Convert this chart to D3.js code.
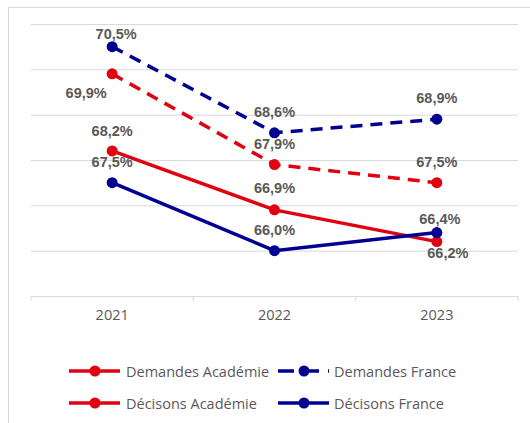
<!DOCTYPE html>
<html>
<head>
<meta charset="utf-8">
<script src="https://cdn.jsdelivr.net/npm/d3@7"></script>
<style>
  body { margin: 0; background: #fff; }
  svg { display: block; }
</style>
</head>
<body>
<svg id="chart" width="530" height="423"></svg>
<script>
// data
const years = ["2021", "2022", "2023"];
const demandesAcademie = [69.9, 67.9, 67.5];
const demandesFrance = [70.5, 68.6, 68.9];
const decisionsAcademie = [68.2, 66.9, 66.2];
const decisionsFrance = [67.5, 66.0, 66.4];
const gridValues = [66, 67, 68, 69, 70, 71];

let svg = d3.select("#chart");
let margin = {left: 31, right: 12, top: 24, bottom: 127};
let width = 530 - margin.left - margin.right;
let height = 423 - margin.top - margin.bottom;

let RED = "#e1000f", BLUE = "#000091", GREY = "#595959";

// label placement per point (dx, dy) relative to the marker
let series = [
  {name: "Demandes Académie", values: demandesAcademie, color: RED, dash: "12,8", legendDash: null,
   offsets: [[-26, 19], [0, -21], [0, -21]]},
  {name: "Demandes France", values: demandesFrance, color: BLUE, dash: "12,8", legendDash: "12,8",
   offsets: [[4, -13], [0, -21], [0, -21]]},
  {name: "Décisons Académie", values: decisionsAcademie, color: RED, dash: null, legendDash: null,
   offsets: [[0, -20], [0, -22], [11, 11]]},
  {name: "Décisons France", values: decisionsFrance, color: BLUE, dash: null, legendDash: null,
   offsets: [[0, -21], [0, -21], [3, -14]]}
];

// outer frame
svg.append("rect")
  .attr("x", 8.5).attr("y", 7.5)
  .attr("width", 540).attr("height", 430)
  .attr("fill", "none")
  .attr("stroke", "#d9d9d9");

let g = svg.append("g")
  .attr("transform", `translate(${margin.left}, ${margin.top})`);

let x = d3.scaleBand().domain(years).range([0, width]);
let y = d3.scaleLinear().domain([65, 71]).range([height, 0]);

// gridlines
let grid = g.append("g")
  .call(d3.axisLeft(y).tickValues(gridValues).tickSize(-width).tickFormat(""));
grid.select(".domain").remove();
grid.selectAll("line").attr("stroke", "#d9d9d9").attr("stroke-width", 1);

// x axis
let xAxis = g.append("g")
  .attr("transform", `translate(0, ${height})`)
  .call(d3.axisBottom(x).tickSize(0).tickPadding(14));
xAxis.select(".domain").attr("stroke", "#d9d9d9");
xAxis.selectAll("text")
  .attr("fill", GREY)
  .style("font-family", "'Open Sans', sans-serif")
  .style("font-size", "14.5px");

let bounds = years.map(d => x(d)).concat([width]);
g.append("g").selectAll("line")
  .data(bounds)
  .enter().append("line")
  .attr("x1", d => d).attr("x2", d => d)
  .attr("y1", height).attr("y2", height + 5)
  .attr("stroke", "#d9d9d9");

let cx = d => x(d) + x.bandwidth() / 2;

let line = d3.line()
  .x((d, i) => cx(years[i]))
  .y(d => y(d));

series.forEach(s => {
  g.append("path")
    .datum(s.values)
    .attr("d", line)
    .attr("fill", "none")
    .attr("stroke", s.color)
    .attr("stroke-width", 3.5)
    .attr("stroke-dasharray", s.dash);

  g.append("g").selectAll("circle")
    .data(s.values)
    .enter().append("circle")
    .attr("cx", (d, i) => cx(years[i]))
    .attr("cy", d => y(d))
    .attr("r", 5.5)
    .attr("fill", s.color);
});

// data labels on top
series.forEach(s => {
  g.append("g").selectAll("text")
    .data(s.values)
    .enter().append("text")
    .attr("x", (d, i) => cx(years[i]) + s.offsets[i][0])
    .attr("y", (d, i) => y(d) + s.offsets[i][1])
    .attr("text-anchor", "middle")
    .attr("dominant-baseline", "central")
    .attr("fill", GREY)
    .style("font-family", "'Liberation Sans Narrow', 'Arial Narrow', 'Liberation Sans', sans-serif")
    .style("font-weight", "bold")
    .style("font-size", "14.5px")
    .text(d => d.toFixed(1).replace(".", ",") + "%");
});

// legend, 2 x 2
let legendX = [69, 278];
let legendY = [371, 403];
let legend = svg.append("g");
series.forEach((s, i) => {
  let lx = legendX[i % 2], ly = legendY[Math.floor(i / 2)];
  let item = legend.append("g").attr("transform", `translate(${lx}, ${ly})`);
  item.append("line")
    .attr("x1", 0).attr("x2", 51)
    .attr("y1", 0).attr("y2", 0)
    .attr("stroke", s.color)
    .attr("stroke-width", 3.5)
    .attr("stroke-dasharray", s.legendDash ? "16,9" : null);
  item.append("circle")
    .attr("cx", 26).attr("cy", 0).attr("r", 5.5)
    .attr("fill", s.color);
  item.append("text")
    .attr("x", i % 2 == 0 ? 57 : 56)
    .attr("y", 0)
    .attr("dominant-baseline", "central")
    .attr("fill", GREY)
    .style("font-family", "'Open Sans', sans-serif")
    .style("font-size", "14.5px")
    .text(s.name);
});
</script>
</body>
</html>
